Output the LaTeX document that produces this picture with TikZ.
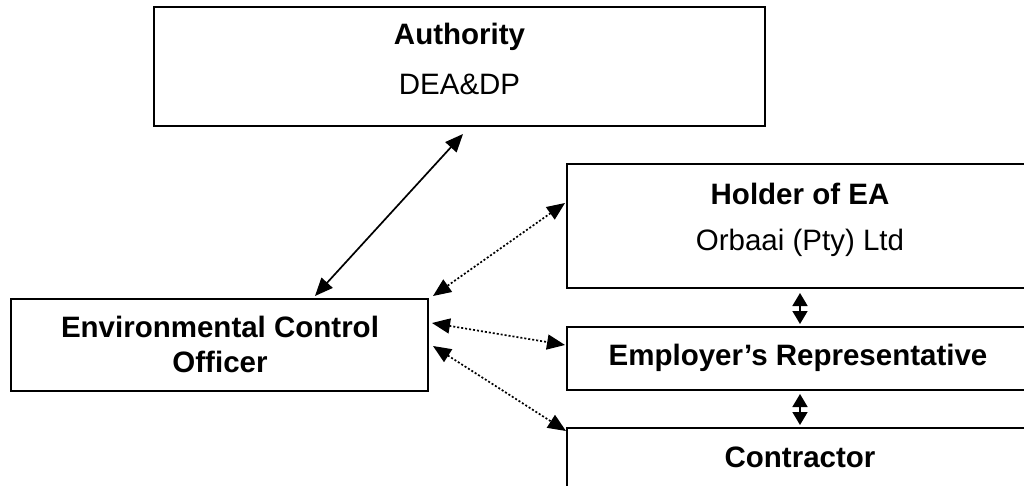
\documentclass[tikz,border=0pt]{standalone}
\usepackage{fontspec}
\setmainfont{Liberation Sans}
\usetikzlibrary{arrows.meta}
\begin{document}
\begin{tikzpicture}[x=1pt,y=-1pt,
  box/.style={draw,line width=2pt,inner sep=0pt},
  txt/.style={anchor=base,inner sep=0pt,font=\fontsize{29.5}{35}\selectfont},
  btxt/.style={txt,font=\fontsize{29.5}{35}\selectfont\bfseries},
  link/.style={line width=1.7pt,{Triangle[length=18pt,width=15pt]}-{Triangle[length=18pt,width=15pt]}},
  dlink/.style={link,dash pattern=on 2pt off 2pt},
  vlink/.style={line width=1.7pt,{Triangle[length=13pt,width=15pt]}-{Triangle[length=13pt,width=15pt]}}]
\useasboundingbox (0,0) rectangle (1024,486);
\clip (0,0) rectangle (1024,486);
\fill[white] (0,0) rectangle (1024,486);
% boxes
\node[box,minimum width=611pt,minimum height=119pt] (auth) at (459.5,66.5) {};
\node[box,minimum width=466pt,minimum height=124pt] (holder) at (800,226) {};
\node[box,minimum width=417pt,minimum height=92pt] (eco) at (219.5,345) {};
\node[box,minimum width=466pt,minimum height=63pt] (er) at (800,358.5) {};
\node[box,minimum width=466pt,minimum height=132pt] (con) at (800,494) {};
% texts
\node[btxt] (authT) at (459.5,45) {Authority};
\node[txt] (authS) at (459.5,95) {DEA\&DP};
\node[btxt] (holderT) at (800,205) {Holder of EA};
\node[txt] (holderS) at (800,250) {Orbaai (Pty) Ltd};
\node[btxt] (ecoT1) at (220,337) {Environmental Control};
\node[btxt] (ecoT2) at (220,372) {Officer};
\node[btxt] (erT) at (798,365) {Employer’s Representative};
\node[btxt] (conT) at (800,467) {Contractor};
% connectors
\draw[link] ([xshift=3.5pt,yshift=-7pt]auth.south) -- ([xshift=95.5pt,yshift=2pt]eco.north);
\draw[dlink] ([xshift=-1pt,yshift=23pt]holder.west) -- ([xshift=4pt,yshift=2pt]eco.north east);
\draw[dlink] ([xshift=3pt,yshift=22pt]eco.east) -- ([xshift=-1pt,yshift=13.5pt]er.west);
\draw[dlink] ([xshift=4pt,yshift=-1pt]eco.east) -- ([yshift=-4pt]con.north west);
\draw[vlink] ([yshift=-4pt]holder.south) -- ([yshift=2pt]er.north);
\draw[vlink] ([yshift=-3pt]er.south) -- ([yshift=2pt]con.north);
\end{tikzpicture}
\end{document}
